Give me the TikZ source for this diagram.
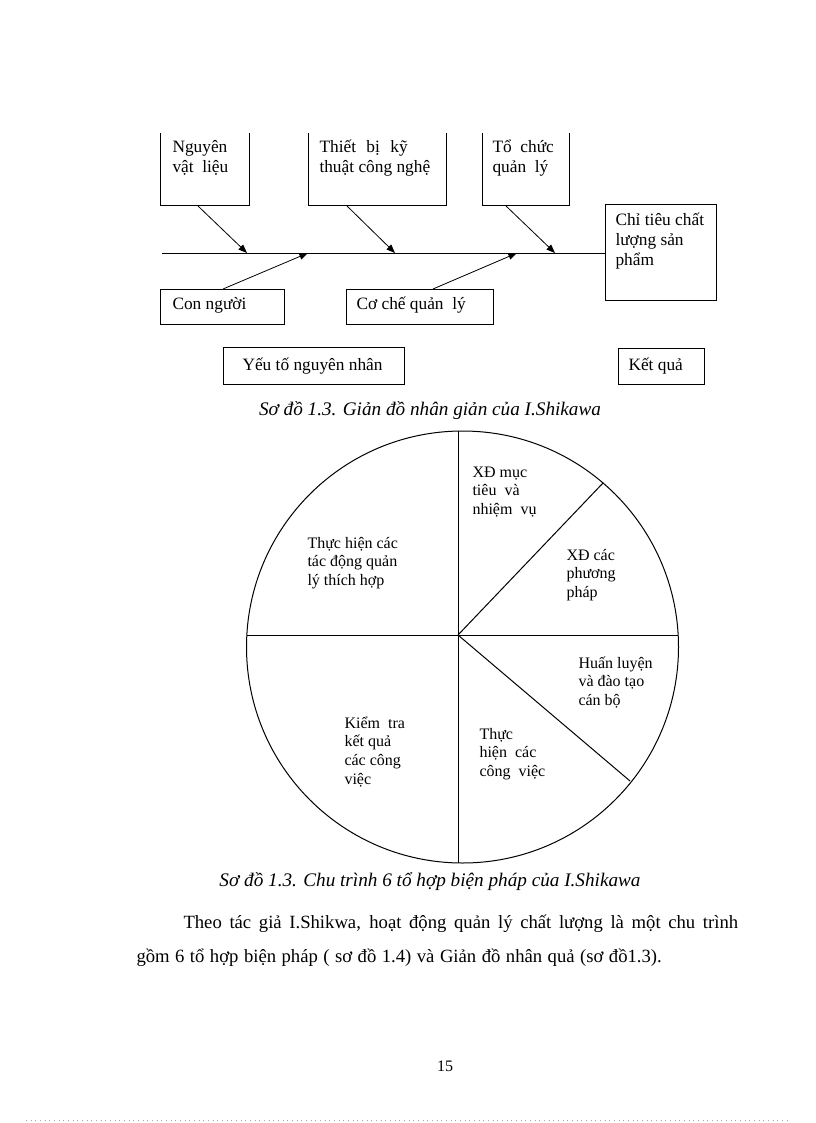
\documentclass[tikz,border=0pt]{standalone}
\usepackage{fontspec}
\setmainfont{Liberation Serif}
\usetikzlibrary{arrows.meta}
\newcommand\mltext[1]{\parbox[t]{5cm}{\raggedright #1}}
\begin{document}
\begin{tikzpicture}[x=0.75pt,y=-0.75pt,line width=0.75pt,
  bx/.style 2 args={rectangle,inner sep=0pt,anchor=north west,minimum width=#1*0.75pt,minimum height=#2*0.75pt},
  fbtext/.style={anchor=base west,inner sep=0pt,font=\fontsize{13}{15}\selectfont},
  pietext/.style={anchor=base west,inner sep=0pt,font=\fontsize{12}{14}\selectfont},
  captext/.style={anchor=base,inner sep=0pt,font=\fontsize{14.4}{16}\selectfont\itshape},
  bodytext/.style={anchor=base west,inner sep=0pt,font=\fontsize{14}{17}\selectfont},
  arr/.style={-{Triangle[length=6.5pt,width=5pt]},line width=0.6pt}]
\useasboundingbox[fill=white] (0,0) rectangle (816,1123);

% ---------- fishbone ----------
\node[bx={88}{72}] (nvl) at (160,133) {};
\draw (nvl.north west) -- (nvl.south west) -- (nvl.south east) -- (nvl.north east);
\node[fbtext] (nvlt) at (172,153) {\mltext{Nguyên\\vật\ \ liệu}};

\node[bx={137}{72}] (tb) at (308,133) {};
\draw (tb.north west) -- (tb.south west) -- (tb.south east) -- (tb.north east);
\node[fbtext] (tbt) at (319,153) {\mltext{Thiết\hspace{0.6em}bị\hspace{0.6em}kỹ\\thuật công nghệ}};

\node[bx={86}{72}] (tc) at (482,133) {};
\draw (tc.north west) -- (tc.south west) -- (tc.south east) -- (tc.north east);
\node[fbtext] (tct) at (492,153) {\mltext{Tổ\ \ chức\\quản\ \ lý}};

\node[draw,bx={111}{96}] (ct) at (605,204) {};
\node[fbtext] (ctt) at (615,225) {\mltext{Chỉ tiêu chất\\lượng sản\\phẩm}};

\node[draw,bx={124}{35}] (cn) at (160,289) {};
\node[fbtext] (cnt) at (172,309) {Con người};

\node[draw,bx={147}{35}] (cc) at (346,289) {};
\node[fbtext] (cct) at (356,309) {Cơ chế quản\ \ lý};

\node[draw,bx={181}{37}] (yt) at (223,347) {};
\node[fbtext] (ytt) at (242,370) {Yếu tố nguyên nhân};

\node[draw,bx={86}{36}] (kq) at (618,348) {};
\node[fbtext] (kqt) at (628,370) {Kết quả};

\coordinate (sp) at (162,253);
\draw (sp) -- (sp -| ct.west);

\draw[arr] (nvl.south -| 198,0) -- (sp -| 247,0);
\draw[arr] (tb.south -| 347,0) -- (sp -| 395,0);
\draw[arr] (tc.south -| 506,0) -- (sp -| 555,0);
\draw[arr] (cn.north -| 223,0) -- (sp -| 308,0);
\draw[arr] (cc.north -| 433,0) -- (sp -| 517,0);

\node[captext] (cap1) at (430,415) {Sơ đồ 1.3. Giản đồ nhân giản của I.Shikawa};

% ---------- cycle ----------
\coordinate (O) at (462.5,647);
\draw (O) circle [radius=162pt];
\coordinate (P) at (458,635);
\coordinate (ptop) at (458,431);
\coordinate (pbot) at (458,863);
\coordinate (pleft) at (247,635);
\coordinate (pright) at (678,635);
\coordinate (pne) at (603,483);
\coordinate (pse) at (630,781);
\draw (P) -- (ptop);
\draw (P) -- (pbot);
\draw (P) -- (pleft);
\draw (P) -- (pright);
\draw (P) -- (pne);
\draw (P) -- (pse);

\node[pietext] (s1) at (472,477) {\mltext{XĐ mục\\tiêu\ \ và\\nhiệm\ \ vụ}};
\node[pietext] (s2) at (566,560) {\mltext{XĐ các\\phương\\pháp}};
\node[pietext] (s3) at (578,668) {\mltext{Huấn luyện\\và đào tạo\\cán bộ}};
\node[pietext] (s4) at (479,739) {\mltext{Thực\\hiện\ \ các\\công\ \ việc}};
\node[pietext] (s5) at (344,728) {\mltext{Kiểm\ \ tra\\kết quả\\các công\\việc}};
\node[pietext] (s6) at (307,548) {\mltext{Thực hiện các\\tác động quản\\lý thích hợp}};

\node[captext] (cap2) at (430,886) {Sơ đồ 1.3. Chu trình 6 tổ hợp biện pháp của I.Shikawa};

% ---------- body text ----------
\node[bodytext] (body1) at (183,928) {\makebox[416pt][s]{Theo tác giả I.Shikwa, hoạt động quản lý chất lượng là một chu trình}};
\node[bodytext] (body2) at (136,962) {\makebox[394pt][s]{gồm 6 tổ hợp biện pháp ( sơ đồ 1.4) và Giản đồ nhân quả (sơ đồ1.3).}};

\node[anchor=base,inner sep=0pt,font=\fontsize{12}{14}\selectfont] (pg) at (445,1071) {15};

\coordinate (dl) at (26,1120);
\coordinate (dr) at (791,1120);
\draw[gray!70,line width=0.5pt,dash pattern=on 0.6pt off 2.9pt] (dl) -- (dr);
\end{tikzpicture}
\end{document}
